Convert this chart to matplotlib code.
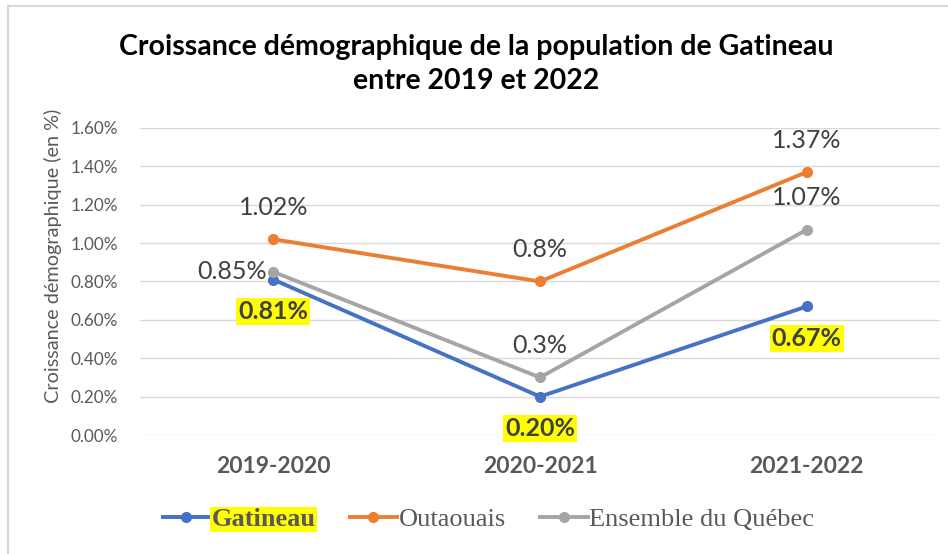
import matplotlib.pyplot as plt
from matplotlib.lines import Line2D
from matplotlib.patches import Rectangle

categories = ["2019-2020", "2020-2021", "2021-2022"]
gatineau = [0.81, 0.20, 0.67]
outaouais = [1.02, 0.80, 1.37]
quebec = [0.85, 0.30, 1.07]
gatineau_labels = ["0.81%", "0.20%", "0.67%"]
outaouais_labels = ["1.02%", "0.8%", "1.37%"]
quebec_labels = ["0.85%", "0.3%", "1.07%"]
yticks = [0.0, 0.2, 0.4, 0.6, 0.8, 1.0, 1.2, 1.4, 1.6]

BLUE = "#4472C4"
ORANGE = "#ED7D31"
GRAY = "#A5A5A5"
TXT = "#595959"
LBL = "#404040"
SANS = ["Lato", "DejaVu Sans"]
SERIF = ["Liberation Serif", "DejaVu Serif"]

fig = plt.figure(figsize=(9.48, 5.54), dpi=100)
fig.patches.append(Rectangle((0.008, -0.01), 1.2, 1.0, transform=fig.transFigure,
                             fill=False, edgecolor="#D9D9D9", lw=1.5))
ax = fig.add_axes([0.1477, 0.2148, 0.8439, 0.5542])

x = list(range(len(categories)))
for vals, col in [(gatineau, BLUE), (outaouais, ORANGE), (quebec, GRAY)]:
    ax.plot(x, vals, color=col, lw=2.8, marker="o", markersize=7, zorder=3)

ax.set_xlim(-0.5, 2.5)
ax.set_ylim(0, 1.6)
ax.set_yticks(yticks)
ax.set_yticklabels([f"{v:.2f}%" for v in yticks], fontsize=12.3, color=TXT, family=SANS)
ax.set_xticks(x)
ax.set_xticklabels(categories, fontsize=16.5, fontweight="bold", color=TXT, family=SANS)
ax.tick_params(axis="both", length=0)
ax.tick_params(axis="x", pad=15)
ax.tick_params(axis="y", pad=16)
ax.grid(axis="y", color="#D9D9D9", lw=1)
ax.set_axisbelow(True)
for s in ax.spines.values():
    s.set_visible(False)

ax.set_ylabel("Croissance démographique (en %)", fontsize=14.3, color=TXT, family=SANS)
ax.yaxis.set_label_coords(-0.097, 0.585)

LS = 18
for i in x:
    ax.annotate(outaouais_labels[i], (i, outaouais[i]), xytext=(0, 23),
                textcoords="offset points", ha="center", va="center",
                fontsize=LS, color=LBL, family=SANS)
    if i == 0:
        ax.annotate(quebec_labels[i], (i, quebec[i]), xytext=(-5, 0),
                    textcoords="offset points", ha="right", va="center",
                    fontsize=LS, color=LBL, family=SANS)
    else:
        ax.annotate(quebec_labels[i], (i, quebec[i]), xytext=(0, 23),
                    textcoords="offset points", ha="center", va="center",
                    fontsize=LS, color=LBL, family=SANS)
    ax.annotate(gatineau_labels[i], (i, gatineau[i]), xytext=(0, -23),
                textcoords="offset points", ha="center", va="center",
                fontsize=LS, fontweight="bold", color=LBL, family=SANS,
                bbox=dict(facecolor="yellow", edgecolor="none", pad=1.5))

fig.text(0.502, 0.885, "Croissance démographique de la population de Gatineau\nentre 2019 et 2022",
         ha="center", va="center", fontsize=20.5, fontweight="bold", color="black",
         family=SANS, linespacing=1.38)

handles = [Line2D([], [], color=c, lw=2.8, marker="o", markersize=7)
           for c in (BLUE, ORANGE, GRAY)]
leg = fig.legend(handles, ["Gatineau", "Outaouais", "Ensemble du Québec"],
                 loc="center", bbox_to_anchor=(0.515, 0.063), ncol=3, frameon=False,
                 prop={"family": SERIF, "size": 19}, handlelength=1.8,
                 handletextpad=0.05, columnspacing=1.3)
for t in leg.get_texts():
    t.set_color(TXT)
leg.get_texts()[0].set_fontweight("bold")
leg.get_texts()[0].set_bbox(dict(facecolor="yellow", edgecolor="none", pad=1))

fig.savefig("out.png", dpi=100)
